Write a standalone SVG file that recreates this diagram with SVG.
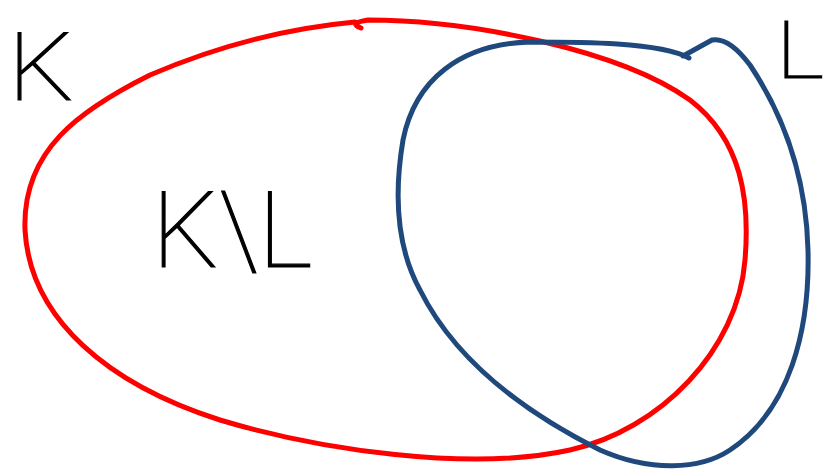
<svg xmlns="http://www.w3.org/2000/svg" width="835" height="472" viewBox="0 0 835 472">
<style>
.lbl{font-family:"Roboto","Lato","Liberation Sans",sans-serif;font-weight:100;fill:#000;stroke:#000;stroke-width:1.2}
.red{fill:none;stroke:#ff0000;stroke-width:5;stroke-linecap:round;stroke-linejoin:round}
.blue{fill:none;stroke:#1f497d;stroke-width:5;stroke-linecap:round;stroke-linejoin:round}
</style>
<rect width="835" height="472" fill="#fff"/>
<g id="connectors"></g>
<g id="setK">
<path class="red" d="M 361,28 Q 348,23 368,20 C 470,20 620,50 690,100 C 742,140 750,200 745,260 C 738,350 660,430 570,450 C 470,472 320,450 220,420 C 110,385 30,320 25,230 C 22,150 80,110 150,75 C 220,45 290,28 355,22"/>
</g>
<g id="setL">
<path class="blue" d="M 689,58 C 660,42 580,42 530,42 C 460,44 415,80 403,140 C 393,200 398,250 420,290 C 460,370 540,420 600,450 C 650,472 700,470 730,450 C 790,410 810,330 808,250 C 806,170 780,110 750,65 C 735,45 722,38 712,40 L 683,56"/>
</g>
<g id="labelK"><text class="lbl" x="8" y="100" font-size="95" textLength="66" lengthAdjust="spacingAndGlyphs">K</text></g>
<g id="labelKminusL"><text class="lbl" x="152" y="267" font-size="105">K\L</text></g>
<g id="labelL"><text class="lbl" x="776" y="78" font-size="80" textLength="48" lengthAdjust="spacingAndGlyphs">L</text></g>
</svg>
